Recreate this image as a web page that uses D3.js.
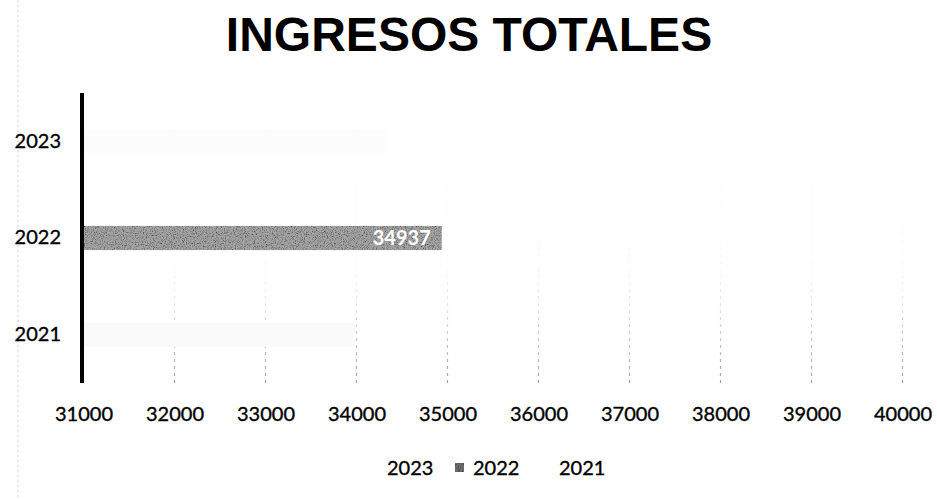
<!DOCTYPE html>
<html>
<head>
<meta charset="utf-8">
<script src="https://cdn.jsdelivr.net/npm/d3@7"></script>
<style>
  html, body { margin: 0; padding: 0; background: #ffffff; }
  svg { display: block; }
</style>
</head>
<body>
<svg id="chart" width="937" height="499"></svg>
<script>
// Ingresos totales por año
const categories = ["2023", "2022", "2021"];
const values = [34310, 34937, 33980];
const xDomain = [31000, 40000];
const tickStep = 1000;
const legendLabels = ["2023", "2022", "2021"];
const barColors = ["#fcfcfc", "#a6a6a6", "#fafafa"];
const title = "INGRESOS TOTALES";

const svg = d3.select("#chart");
const W = 937, H = 499;
const labelFont = "Lato, 'Open Sans', sans-serif";

const defs = svg.append("defs");

// grain texture for the filled bar
const grain = defs.append("filter").attr("id", "grain")
  .attr("x", 0).attr("y", 0).attr("width", 1).attr("height", 1);
grain.append("feTurbulence").attr("type", "fractalNoise")
  .attr("baseFrequency", 0.9).attr("numOctaves", 2).attr("seed", 4).attr("result", "noise");
grain.append("feColorMatrix").attr("in", "noise").attr("type", "matrix")
  .attr("values", "0 0 0 0 0  0 0 0 0 0  0 0 0 0 0  0 0 0 2.0 -0.85").attr("result", "dots");
grain.append("feComposite").attr("in", "dots").attr("in2", "SourceGraphic")
  .attr("operator", "in").attr("result", "dotsIn");
grain.append("feMerge").selectAll("feMergeNode")
  .data(["SourceGraphic", "dotsIn"]).join("feMergeNode").attr("in", d => d);

// gridlines fade out towards the top
const gridGrad = defs.append("linearGradient").attr("id", "gridFade")
  .attr("gradientUnits", "userSpaceOnUse")
  .attr("x1", 0).attr("y1", 93).attr("x2", 0).attr("y2", 383);
gridGrad.append("stop").attr("offset", "0%").attr("stop-color", "#bbbbbb").attr("stop-opacity", 0);
gridGrad.append("stop").attr("offset", "60%").attr("stop-color", "#bbbbbb").attr("stop-opacity", 0.1);
gridGrad.append("stop").attr("offset", "100%").attr("stop-color", "#888888").attr("stop-opacity", 0.8);

const plot = { left: 83.5, right: 902.5, top: 93, bottom: 383 };

const x = d3.scaleLinear().domain(xDomain).range([plot.left, plot.right]);
const y = d3.scaleBand().domain(categories).range([plot.top, plot.bottom]).paddingInner(0.75).paddingOuter(0.375);
const xTicks = d3.range(xDomain[0], xDomain[1] + 1, tickStep);

// faint frame edge on the left
svg.append("line")
  .attr("x1", 18).attr("x2", 18).attr("y1", 0).attr("y2", H)
  .attr("stroke", "#cfcfcf").attr("stroke-width", 1).attr("stroke-dasharray", "2,3");

// title
svg.append("text")
  .attr("x", 469).attr("y", 51)
  .attr("text-anchor", "middle")
  .attr("font-family", "'Liberation Sans', Arial, sans-serif")
  .attr("font-weight", "bold")
  .attr("font-size", 48)
  .attr("fill", "#000")
  .text(title);

// vertical gridlines
svg.append("g").selectAll("line")
  .data(xTicks.slice(1))
  .join("line")
  .attr("x1", d => x(d)).attr("x2", d => x(d))
  .attr("y1", plot.top).attr("y2", plot.bottom)
  .attr("stroke", "url(#gridFade)")
  .attr("stroke-width", 1.2)
  .attr("stroke-dasharray", "3,4");

// bars
svg.append("g").selectAll("rect")
  .data(categories.map((c, i) => ({ c, v: values[i], color: barColors[i] })))
  .join("rect")
  .attr("x", x(xDomain[0]))
  .attr("y", d => y(d.c))
  .attr("width", d => x(d.v) - x(xDomain[0]))
  .attr("height", y.bandwidth())
  .attr("fill", d => d.color)
  .attr("filter", d => d.c === "2022" ? "url(#grain)" : null);

// value label on the 2022 bar
const labelled = categories.indexOf("2022");
svg.append("text")
  .attr("x", x(values[labelled]) - 11)
  .attr("y", y(categories[labelled]) + y.bandwidth() / 2)
  .attr("dy", "0.36em")
  .attr("text-anchor", "end")
  .attr("font-family", labelFont)
  .attr("font-weight", "bold")
  .attr("font-size", 20)
  .attr("fill", "#ffffff")
  .text(d3.format("d")(values[labelled]));

// category axis (thick line, no ticks)
const yAxis = svg.append("g")
  .attr("transform", `translate(${plot.left - 1.5},0)`)
  .call(d3.axisLeft(y).tickSize(0).tickPadding(21));
yAxis.select(".domain").attr("stroke", "#000").attr("stroke-width", 4)
  .attr("d", `M0,${plot.top}V${plot.bottom}`);
yAxis.selectAll("text")
  .attr("font-family", labelFont)
  .attr("font-size", 20)
  .attr("fill", "#000")
  .attr("stroke", "#000").attr("stroke-width", 0.35);

// value axis labels only
const xAxis = svg.append("g")
  .attr("transform", `translate(0,${plot.bottom})`)
  .call(d3.axisBottom(x).tickValues(xTicks).tickFormat(d3.format("d")).tickSize(0).tickPadding(24));
xAxis.select(".domain").remove();
xAxis.selectAll("text")
  .attr("font-family", labelFont)
  .attr("font-size", 20)
  .attr("fill", "#000")
  .attr("stroke", "#000").attr("stroke-width", 0.35);

// legend
const legend = svg.append("g").attr("transform", "translate(0,468)");
const legendItems = legend.selectAll("g")
  .data(legendLabels)
  .join("g")
  .attr("transform", (d, i) => `translate(${369 + i * 86},0)`);
legendItems.append("rect")
  .attr("x", 0).attr("y", -5).attr("width", 9).attr("height", 9)
  .attr("fill", d => d === "2022" ? "#6e6e6e" : barColors[categories.indexOf(d)])
  .attr("filter", d => d === "2022" ? "url(#grain)" : null)
  .attr("opacity", d => d === "2022" ? 1 : 0);
legendItems.append("text")
  .attr("x", 18).attr("y", 0).attr("dy", "0.36em")
  .attr("font-family", labelFont)
  .attr("font-size", 20)
  .attr("fill", "#000")
  .attr("stroke", "#000").attr("stroke-width", 0.35)
  .text(d => d);
</script>
</body>
</html>
